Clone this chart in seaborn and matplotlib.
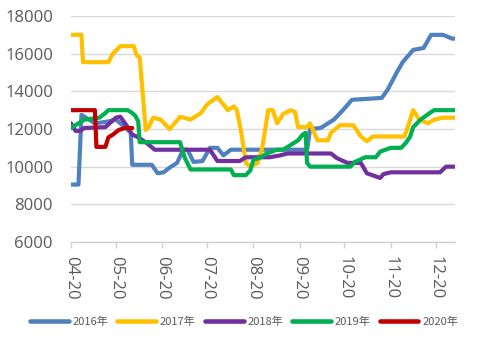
import matplotlib
matplotlib.use("Agg")
import matplotlib.pyplot as plt
import seaborn as sns
import pandas as pd
import numpy as np

# ---- data (day offset from 04-20, price) ----
days_2016 = [0,5,7,16,25,30,36,40,41,54,58,62,66,71,75,78,82,88,93,98,102,107,158,160,167,176,182,188,208,212,218,222,229,236,241,249,255,257]
vals_2016 = [9050,9050,12750,12300,12400,12500,12100,11800,10100,10100,9650,9700,9950,10200,10900,10900,10250,10300,11000,11000,10600,10900,10900,12000,12050,12500,13000,13550,13650,14100,15000,15550,16200,16300,17000,17000,16800,16800]

days_2017 = [0,7,8,25,28,33,42,44,46,50,52,55,60,66,73,80,87,91,98,105,109,111,114,117,120,125,128,132,135,138,142,147,150,152,158,160,165,172,174,180,189,194,198,202,223,225,229,233,239,243,249,257]
vals_2017 = [17000,17000,15550,15550,16000,16400,16400,15900,15800,11950,12100,12600,12500,12000,12650,12500,12850,13300,13700,13000,13200,13000,11800,10200,10000,10200,11000,13000,13000,12300,12800,13000,12900,12100,12100,12300,11400,11400,11800,12200,12200,11600,11350,11600,11600,12000,13000,12500,12300,12500,12600,12600]

days_2018 = [0,3,6,9,23,30,33,38,41,44,50,56,60,93,98,113,117,133,140,145,174,178,185,194,198,207,209,214,247,251,257]
vals_2018 = [12300,11900,11900,12050,12100,12600,12650,12100,11700,11600,11300,10900,10900,10900,10300,10300,10500,10500,10600,10700,10700,10450,10200,10200,9650,9400,9600,9700,9700,10000,10000]

days_2019 = [0,5,9,19,23,25,38,41,43,45,46,73,76,80,107,109,117,120,122,127,131,138,142,147,152,155,157,158,160,187,190,197,204,207,214,221,224,227,229,234,241,243,257]
vals_2019 = [12050,12300,12500,12600,12850,13000,13000,12850,12700,12400,11300,11300,10500,9850,9850,9550,9550,9800,10350,10500,10700,10900,10900,11150,11400,11700,11800,10200,10000,10000,10250,10500,10500,10800,11000,11000,11250,11600,12100,12500,12900,13000,13000]

days_2020 = [0,16,17,23,25,28,32,36,41]
vals_2020 = [13000,13000,11050,11050,11550,11700,11950,12050,12050]

series_names = ["2016年", "2017年", "2018年", "2019年", "2020年"]
colors = ["#4F81BD", "#FFC000", "#7030A0", "#00B050", "#C00000"]
y_ticks = [6000, 8000, 10000, 12000, 14000, 16000, 18000]
start_date = "2020-04-20"
n_month_ticks = 9

# ---- build long table ----
all_days = [days_2016, days_2017, days_2018, days_2019, days_2020]
all_vals = [vals_2016, vals_2017, vals_2018, vals_2019, vals_2020]
frames = []
for name, d, v in zip(series_names, all_days, all_vals):
    frames.append(pd.DataFrame({"day": d, "price": v, "year": name}))
df = pd.concat(frames, ignore_index=True)

sns.set_theme(style="white")
plt.rcParams["font.family"] = ["Open Sans", "Noto Sans CJK SC", "DejaVu Sans"]

fig = plt.figure(figsize=(4.85, 3.44), dpi=100)
ax = fig.add_axes([71/485, 1-242/344, (455-71)/485, (242-16)/344])

sns.lineplot(data=df, x="day", y="price", hue="year", hue_order=series_names,
             palette=colors, estimator=None, sort=False, linewidth=3.0,
             ax=ax, legend=False)

# x ticks at monthly dates
dates = pd.date_range(start_date, periods=n_month_ticks, freq=pd.DateOffset(months=1))
tick_pos = [(d - pd.Timestamp(start_date)).days for d in dates]
ax.set_xticks(tick_pos)
ax.set_xticklabels([d.strftime("%m-%d") for d in dates], rotation=-90,
                   fontsize=12, color="#595959")
ax.set_xlim(0, 257)
ax.set_ylim(6000, 18000)
ax.set_yticks(y_ticks)
ax.set_yticklabels([str(t) for t in y_ticks], fontsize=12, color="#595959")
ax.set_xlabel("")
ax.set_ylabel("")

ax.grid(axis="y", color="#D9D9D9", linewidth=1)
ax.grid(axis="x", visible=False)
ax.set_axisbelow(True)
for s in ["top", "right", "left"]:
    ax.spines[s].set_visible(False)
ax.spines["bottom"].set_color("#D0D0D0")
ax.spines["bottom"].set_linewidth(1)
ax.tick_params(axis="y", length=0, pad=13)
ax.tick_params(axis="x", length=4, width=1, color="#D0D0D0", pad=6, bottom=True)

handles = [plt.Line2D([], [], color=c, linewidth=3.3, solid_capstyle="round") for c in colors]
fig.legend(handles, series_names, loc="center", bbox_to_anchor=(0.503, 0.064),
           ncol=5, frameon=False, handlelength=3.5, handletextpad=0.35,
           columnspacing=0.8, prop={"family": ["Noto Sans CJK SC"], "size": 8},
           labelcolor="#595959")

fig.savefig("out.png", dpi=100)
